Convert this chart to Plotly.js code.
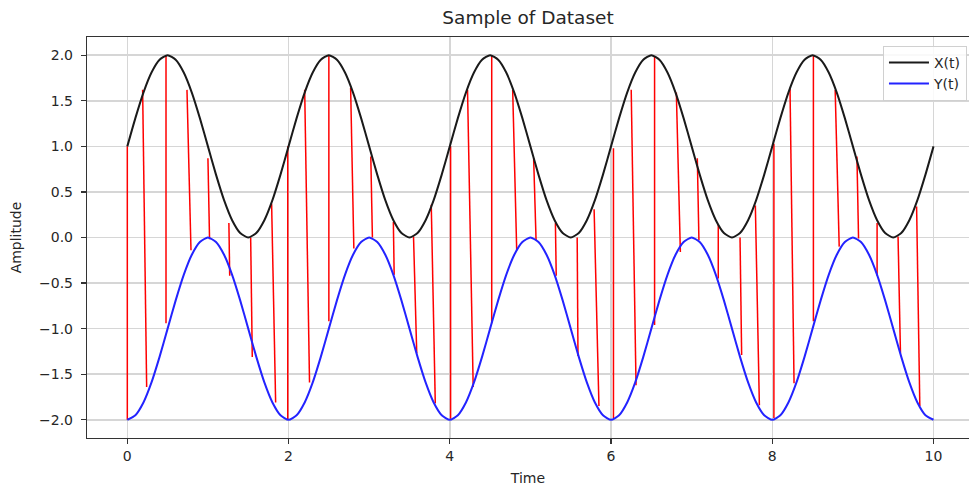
<!DOCTYPE html>
<html>
<head>
<meta charset="utf-8">
<script src="https://cdn.plot.ly/plotly-3.0.1.min.js"></script>
<style>html,body{margin:0;padding:0;background:#fff;}#chart{width:969px;height:489px;}</style>
</head>
<body>
<div id="chart"></div>
<script>
// ---- data ----
const time = [0.0,0.1,0.2,0.3,0.4,0.5,0.6,0.7,0.8,0.9,
  1.0,1.1,1.2,1.3,1.4,1.5,1.6,1.7,1.8,1.9,
  2.0,2.1,2.2,2.3,2.4,2.5,2.6,2.7,2.8,2.9,
  3.0,3.1,3.2,3.3,3.4,3.5,3.6,3.7,3.8,3.9,
  4.0,4.1,4.2,4.3,4.4,4.5,4.6,4.7,4.8,4.9,
  5.0,5.1,5.2,5.3,5.4,5.5,5.6,5.7,5.8,5.9,
  6.0,6.1,6.2,6.3,6.4,6.5,6.6,6.7,6.8,6.9,
  7.0,7.1,7.2,7.3,7.4,7.5,7.6,7.7,7.8,7.9,
  8.0,8.1,8.2,8.3,8.4,8.5,8.6,8.7,8.8,8.9,
  9.0,9.1,9.2,9.3,9.4,9.5,9.6,9.7,9.8,9.9,
  10.0];
const xSignal = [1.00,1.31,1.59,1.81,1.95,2.00,1.95,1.81,1.59,1.31,
  1.00,0.69,0.41,0.19,0.05,0.00,0.05,0.19,0.41,0.69,
  1.00,1.31,1.59,1.81,1.95,2.00,1.95,1.81,1.59,1.31,
  1.00,0.69,0.41,0.19,0.05,0.00,0.05,0.19,0.41,0.69,
  1.00,1.31,1.59,1.81,1.95,2.00,1.95,1.81,1.59,1.31,
  1.00,0.69,0.41,0.19,0.05,0.00,0.05,0.19,0.41,0.69,
  1.00,1.31,1.59,1.81,1.95,2.00,1.95,1.81,1.59,1.31,
  1.00,0.69,0.41,0.19,0.05,0.00,0.05,0.19,0.41,0.69,
  1.00,1.31,1.59,1.81,1.95,2.00,1.95,1.81,1.59,1.31,
  1.00,0.69,0.41,0.19,0.05,0.00,0.05,0.19,0.41,0.69,
  1.00];
const ySignal = [-2.00,-1.95,-1.81,-1.59,-1.31,-1.00,-0.69,-0.41,-0.19,-0.05,
  0.00,-0.05,-0.19,-0.41,-0.69,-1.00,-1.31,-1.59,-1.81,-1.95,
  -2.00,-1.95,-1.81,-1.59,-1.31,-1.00,-0.69,-0.41,-0.19,-0.05,
  0.00,-0.05,-0.19,-0.41,-0.69,-1.00,-1.31,-1.59,-1.81,-1.95,
  -2.00,-1.95,-1.81,-1.59,-1.31,-1.00,-0.69,-0.41,-0.19,-0.05,
  0.00,-0.05,-0.19,-0.41,-0.69,-1.00,-1.31,-1.59,-1.81,-1.95,
  -2.00,-1.95,-1.81,-1.59,-1.31,-1.00,-0.69,-0.41,-0.19,-0.05,
  0.00,-0.05,-0.19,-0.41,-0.69,-1.00,-1.31,-1.59,-1.81,-1.95,
  -2.00,-1.95,-1.81,-1.59,-1.31,-1.00,-0.69,-0.41,-0.19,-0.05,
  0.00,-0.05,-0.19,-0.41,-0.69,-1.00,-1.31,-1.59,-1.81,-1.95,
  -2.00];

// red sample segments: start on X(t), end on Y(t)
const sampleStartT = [0.00,0.19,0.48,0.74,1.00,1.26,1.53,1.79,1.99,2.20,
  2.50,2.77,3.02,3.30,3.55,3.77,4.01,4.22,4.52,4.78,
  5.04,5.31,5.58,5.79,6.03,6.25,6.54,6.81,7.07,7.33,
  7.60,7.79,8.02,8.22,8.51,8.78,9.05,9.30,9.56,9.79];
const sampleStartV = [1.00,1.62,2.00,1.62,0.87,0.16,0.00,0.37,1.00,1.62,
  2.00,1.64,0.89,0.17,0.01,0.36,1.00,1.62,2.00,1.62,
  0.87,0.16,0.00,0.31,0.98,1.62,1.99,1.59,0.87,0.14,
  0.00,0.35,1.03,1.63,2.00,1.62,0.89,0.16,0.01,0.34];
const sampleEndT = [0.00,0.24,0.48,0.79,1.02,1.27,1.55,1.84,1.99,2.26,
  2.50,2.81,3.04,3.31,3.59,3.82,4.01,4.29,4.52,4.83,
  5.07,5.32,5.59,5.85,6.03,6.31,6.54,6.86,7.09,7.33,
  7.62,7.84,8.02,8.27,8.51,8.83,9.07,9.30,9.59,9.83];
const sampleEndV = [-2.00,-1.64,-0.94,-0.14,-0.02,-0.42,-1.31,-1.81,-2.00,-1.59,
  -0.92,-0.12,0.00,-0.41,-1.27,-1.82,-1.99,-1.64,-0.94,-0.14,
  -0.03,-0.42,-1.30,-1.85,-1.98,-1.62,-0.96,-0.16,-0.03,-0.45,
  -1.29,-1.84,-1.98,-1.60,-0.92,-0.10,-0.01,-0.42,-1.27,-1.85];

const xTickVals = [0,2,4,6,8,10];
const xTickText = ['0','2','4','6','8','10'];
const yTickVals = [-2,-1.5,-1,-0.5,0,0.5,1,1.5,2];
const yTickText = ['\u22122.0','\u22121.5','\u22121.0','\u22120.5','0.0','0.5','1.0','1.5','2.0'];

// ---- build traces ----
const redX = [], redY = [];
for (let i = 0; i < sampleStartT.length; i++) {
  redX.push(sampleStartT[i], sampleEndT[i], null);
  redY.push(sampleStartV[i], sampleEndV[i], null);
}

const font = "'DejaVu Sans', Verdana, sans-serif";
const textColor = '#262626';

const traces = [
  {x: redX, y: redY, mode: 'lines', line: {color: '#ff0000', width: 1.5},
   showlegend: false, hoverinfo: 'skip', connectgaps: false},
  {x: time, y: xSignal, mode: 'lines', name: 'X(t)',
   line: {color: '#1a1a1a', width: 2, shape: 'spline', smoothing: 0.6}},
  {x: time, y: ySignal, mode: 'lines', name: 'Y(t)',
   line: {color: '#2323ff', width: 2, shape: 'spline', smoothing: 0.6}}
];

const layout = {
  width: 969, height: 489,
  margin: {l: 87, r: 0, t: 37, b: 51},
  paper_bgcolor: '#ffffff', plot_bgcolor: '#ffffff',
  font: {family: font, size: 14, color: textColor},
  title: {text: 'Sample of Dataset', font: {family: font, size: 18.5, color: textColor},
    x: 0.5, xref: 'paper', xanchor: 'center', y: 1 - 18/489, yref: 'container', yanchor: 'middle'},
  xaxis: {
    range: [-0.5, 10.44], tickvals: xTickVals, ticktext: xTickText,
    showgrid: true, gridcolor: '#d6d6d6', gridwidth: 1.5, zeroline: false,
    showline: true, linecolor: '#333333', linewidth: 1.2, mirror: true,
    ticks: 'outside', ticklen: 5, tickwidth: 1.2, tickcolor: '#333333',
    tickfont: {family: font, size: 14, color: textColor},
    title: {text: 'Time', font: {family: font, size: 14, color: textColor}, standoff: 10},
    automargin: false
  },
  yaxis: {
    range: [-2.2, 2.2], tickvals: yTickVals, ticktext: yTickText,
    showgrid: true, gridcolor: '#d6d6d6', gridwidth: 1.5, zeroline: false,
    showline: true, linecolor: '#333333', linewidth: 1.2, mirror: false,
    ticks: 'outside', ticklen: 5, tickwidth: 1.2, tickcolor: '#333333',
    ticklabelstandoff: 5,
    tickfont: {family: font, size: 14, color: textColor},
    title: {text: 'Amplitude', font: {family: font, size: 14, color: textColor}, standoff: 14},
    automargin: false
  },
  legend: {
    x: 0.9977, xanchor: 'right', y: 0.978, yanchor: 'top',
    bgcolor: 'rgba(255,255,255,0.85)', bordercolor: '#d0d0d0', borderwidth: 1,
    itemwidth: 40,
    font: {family: font, size: 14, color: textColor}
  },
  showlegend: true
};

Plotly.newPlot('chart', traces, layout, {displayModeBar: false, staticPlot: true});
</script>
</body>
</html>
